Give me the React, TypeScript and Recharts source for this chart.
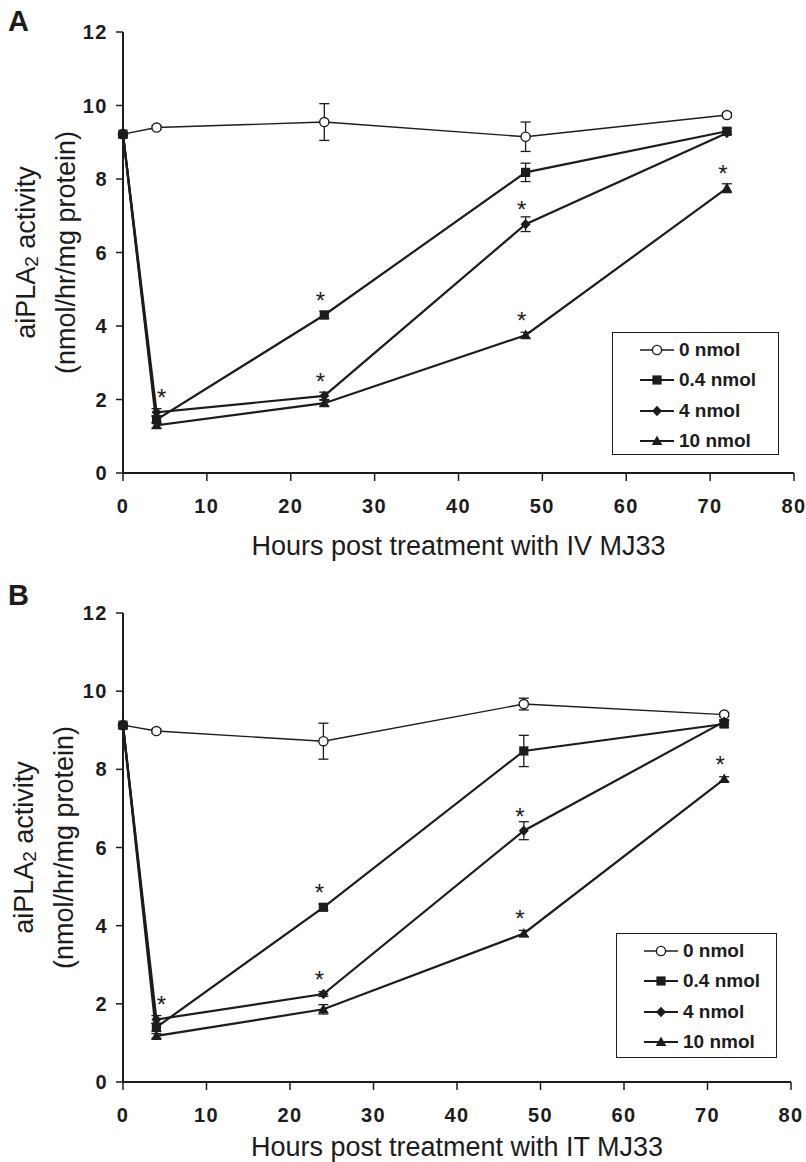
import React from "react";
import { ErrorBar, Legend, Line, LineChart, XAxis, YAxis } from "recharts";

const INK = "#1c1c1c";
const FONT = '"Liberation Sans", Arial, Helvetica, sans-serif';

// shared categories
const hours = [0, 4, 24, 48, 72];
const doseNames = ["0 nmol", "0.4 nmol", "4 nmol", "10 nmol"];
const xTicks = [0, 10, 20, 30, 40, 50, 60, 70, 80];
const yTicks = [0, 2, 4, 6, 8, 10, 12];

// panel A : IV MJ33
const ivDose0 = [9.22, 9.4, 9.55, 9.15, 9.74];
const ivDose04 = [9.22, 1.45, 4.3, 8.18, 9.3];
const ivDose4 = [9.22, 1.65, 2.1, 6.77, 9.25];
const ivDose10 = [9.22, 1.3, 1.9, 3.75, 7.75];
const ivErr0 = [0, 0.05, 0.5, 0.4, 0.06];
const ivErr04 = [0, 0.1, 0.1, 0.25, 0.08];
const ivErr4 = [0, 0.1, 0.1, 0.2, 0.05];
const ivErr10 = [0, 0.08, 0.08, 0.08, 0.12];
const ivSig0 = [0, 0, 0, 0, 0];
const ivSig04 = [0, 0, 1, 0, 0];
const ivSig4 = [0, 1, 1, 1, 0];
const ivSig10 = [0, 0, 0, 1, 1];

// panel B : IT MJ33
const itDose0 = [9.13, 8.98, 8.72, 9.67, 9.4];
const itDose04 = [9.13, 1.4, 4.47, 8.47, 9.16];
const itDose4 = [9.13, 1.6, 2.25, 6.43, 9.22];
const itDose10 = [9.13, 1.18, 1.86, 3.8, 7.75];
const itErr0 = [0, 0.05, 0.46, 0.15, 0.05];
const itErr04 = [0, 0.1, 0.08, 0.4, 0.08];
const itErr4 = [0, 0.1, 0.06, 0.23, 0.05];
const itErr10 = [0, 0.06, 0.12, 0.08, 0.06];
const itSig0 = [0, 0, 0, 0, 0];
const itSig04 = [0, 0, 1, 0, 0];
const itSig4 = [0, 1, 1, 1, 0];
const itSig10 = [0, 0, 0, 1, 1];

type Shape = "circle" | "square" | "diamond" | "triangle";
const shapes: Shape[] = ["circle", "square", "diamond", "triangle"];
const lineWidths = [1.4, 2.2, 2.2, 2.2];

function buildRows(vals: number[][], errs: number[][], sigs: number[][]) {
  return hours.map((t, i) => {
    const row: any = { t };
    vals.forEach((v, k) => {
      row["v" + k] = v[i];
      row["e" + k] = errs[k][i] ? errs[k][i] : null;
      row["s" + k] = sigs[k][i];
    });
    return row;
  });
}

const rowsA = buildRows(
  [ivDose0, ivDose04, ivDose4, ivDose10],
  [ivErr0, ivErr04, ivErr4, ivErr10],
  [ivSig0, ivSig04, ivSig4, ivSig10]
);
const rowsB = buildRows(
  [itDose0, itDose04, itDose4, itDose10],
  [itErr0, itErr04, itErr4, itErr10],
  [itSig0, itSig04, itSig4, itSig10]
);

function Marker({ shape, cx, cy }: { shape: Shape; cx: number; cy: number }) {
  if (shape === "circle") return <circle cx={cx} cy={cy} r={4.6} fill="#fff" stroke={INK} strokeWidth={1.4} />;
  if (shape === "square") return <rect x={cx - 4.6} y={cy - 4.6} width={9.2} height={9.2} fill={INK} />;
  if (shape === "diamond")
    return <polygon points={`${cx},${cy - 5.2} ${cx + 5},${cy} ${cx},${cy + 5.2} ${cx - 5},${cy}`} fill={INK} />;
  return <polygon points={`${cx},${cy - 5.6} ${cx + 5.3},${cy + 4} ${cx - 5.3},${cy + 4}`} fill={INK} />;
}

function LegendBox({ w, h }: { w: number; h: number }) {
  return (
    <div style={{ width: w, height: h, border: `1.3px solid ${INK}`, boxSizing: "border-box", position: "relative", background: "#fff" }}>
      {doseNames.map((name, i) => (
        <div key={name} style={{ position: "absolute", left: 0, top: 17 + i * 30.3 - 10, height: 20, display: "flex", alignItems: "center" }}>
          <svg width={66} height={20}>
            <line x1={27} x2={61} y1={10} y2={10} stroke={INK} strokeWidth={lineWidths[i]} />
            <Marker shape={shapes[i]} cx={44} cy={10} />
          </svg>
          <span style={{ font: `700 19px ${FONT}`, color: INK, lineHeight: "20px" }}>{name}</span>
        </div>
      ))}
    </div>
  );
}

type PanelCfg = {
  letter: string;
  title: string;
  rows: any[];
  height: number;
  margin: { top: number; right: number; bottom: number; left: number };
  titleDy: number;
  letterY: number;
  yTitleX: [number, number];
  legend: { left: number; top: number; width: number; height: number };
};

function Panel({ cfg }: { cfg: PanelCfg }) {
  const yTitle = (props: any) => {
    const vb = props.viewBox || { y: 0, height: 0 };
    const cy = vb.y + vb.height / 2;
    const [x1, x2] = cfg.yTitleX;
    return (
      <g>
        <text x={8} y={cfg.letterY} fontFamily={FONT} fontWeight={700} fontSize={29} fill={INK}>
          {cfg.letter}
        </text>
        <text x={x1} y={cy} transform={`rotate(-90, ${x1}, ${cy})`} textAnchor="middle" dominantBaseline="central" fontFamily={FONT} fontSize={27} fill={INK}>
          aiPLA<tspan fontSize={19} dy={5}>2</tspan>
          <tspan dy={-5}> activity</tspan>
        </text>
        <text x={x2} y={cy} transform={`rotate(-90, ${x2}, ${cy})`} textAnchor="middle" dominantBaseline="central" fontFamily={FONT} fontSize={27} fill={INK}>
          (nmol/hr/mg protein)
        </text>
      </g>
    );
  };
  const xTitle = (props: any) => {
    const vb = props.viewBox || { x: 0, y: 0, width: 0 };
    return (
      <text x={vb.x + vb.width / 2} y={vb.y + cfg.titleDy} textAnchor="middle" dominantBaseline="central" fontFamily={FONT} fontSize={27} fill={INK}>
        {cfg.title}
      </text>
    );
  };
  const tickStyle = { fill: INK, fontSize: 20, fontWeight: 700, fontFamily: FONT, letterSpacing: 1.5 };

  return (
    <LineChart width={806} height={cfg.height} data={cfg.rows} margin={cfg.margin}>
      <XAxis
        type="number"
        dataKey="t"
        domain={[0, 80]}
        ticks={xTicks}
        interval={0}
        height={60}
        tickSize={8}
        tickMargin={18}
        axisLine={{ stroke: INK, strokeWidth: 2 }}
        tickLine={{ stroke: INK, strokeWidth: 1.5 }}
        tick={tickStyle}
        label={xTitle}
      />
      <YAxis
        type="number"
        domain={[0, 12]}
        ticks={yTicks}
        interval={0}
        width={63}
        tickSize={7}
        tickMargin={8}
        axisLine={{ stroke: INK, strokeWidth: 2 }}
        tickLine={{ stroke: INK, strokeWidth: 1.5 }}
        tick={tickStyle}
        label={yTitle}
      />
      {doseNames.map((name, k) => (
        <Line
          key={name}
          name={name}
          type="linear"
          dataKey={"v" + k}
          stroke={INK}
          strokeWidth={lineWidths[k]}
          isAnimationActive={false}
          activeDot={false}
          dot={(p: any) => {
            if (p.cx == null || p.cy == null) return <g key={`d${k}-${p.index}`} />;
            const sig = p.payload && p.payload["s" + k];
            const dx = p.payload && p.payload.t < 10 ? 5 : -4;
            return (
              <g key={`d${k}-${p.index}`}>
                <Marker shape={shapes[k]} cx={p.cx} cy={p.cy} />
                {sig ? (
                  <text x={p.cx + dx} y={p.cy - 6} textAnchor="middle" fontFamily={FONT} fontSize={24} fill={INK}>
                    *
                  </text>
                ) : null}
              </g>
            );
          }}
        >
          <ErrorBar dataKey={"e" + k} direction="y" width={5} stroke={INK} strokeWidth={1.3} isAnimationActive={false} />
        </Line>
      ))}
      <Legend
        verticalAlign="middle"
        align="center"
        layout="horizontal"
        wrapperStyle={{ ...cfg.legend, position: "absolute" }}
        content={() => <LegendBox w={cfg.legend.width} h={cfg.legend.height} />}
      />
    </LineChart>
  );
}

const panelA: PanelCfg = {
  letter: "A",
  title: "Hours post treatment with IV MJ33",
  rows: rowsA,
  height: 575,
  margin: { top: 32, right: 12, bottom: 42, left: 60 },
  titleDy: 73,
  letterY: 31,
  yTitleX: [26, 66],
  legend: { left: 612, top: 332, width: 167, height: 123 },
};

const panelB: PanelCfg = {
  letter: "B",
  title: "Hours post treatment with IT MJ33",
  rows: rowsB,
  height: 587,
  margin: { top: 38, right: 15, bottom: 20, left: 60 },
  titleDy: 65,
  letterY: 30,
  yTitleX: [24, 64],
  legend: { left: 616, top: 358, width: 161, height: 125 },
};

export default function App() {
  return (
    <div style={{ position: "absolute", left: 0, top: 0, width: 806, height: 1162, background: "#fff" }}>
      <div style={{ height: 575 }}>
        <Panel cfg={panelA} />
      </div>
      <div style={{ height: 587 }}>
        <Panel cfg={panelB} />
      </div>
    </div>
  );
}
